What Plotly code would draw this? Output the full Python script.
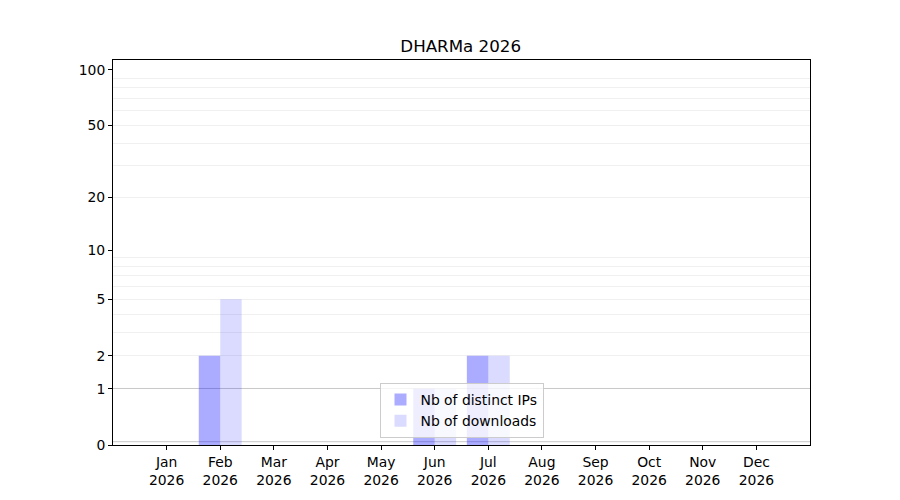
import numpy as np
import plotly.graph_objects as go

# monthly values
months = ["Jan", "Feb", "Mar", "Apr", "May", "Jun",
          "Jul", "Aug", "Sep", "Oct", "Nov", "Dec"]
year = "2026"
distinct_ips = [0, 2, 0, 0, 0, 1, 2, 0, 0, 0, 0, 0]
downloads = [0, 5, 0, 0, 0, 1, 2, 0, 0, 0, 0, 0]

tick_values = [0, 1, 2, 5, 10, 20, 50, 100]
major_grid = [1, 10, 100]
minor_grid = [2, 3, 4, 5, 6, 7, 8, 9, 20, 30, 40, 50, 60, 70, 80, 90]

x_labels = [f"{m}<br>{year}" for m in months]

# y axis is log(1 + n), so everything is shifted by one on a log axis
shift = lambda vals: [v + 1 for v in vals]
y_range = [0, np.log10(114)]

fig = go.Figure()
fig.add_trace(go.Bar(x=x_labels, y=shift(distinct_ips), name="Nb of distinct IPs",
                     marker=dict(color="rgba(0,0,255,0.33)", line=dict(width=0))))
fig.add_trace(go.Bar(x=x_labels, y=shift(downloads), name="Nb of downloads",
                     marker=dict(color="rgba(0,0,255,0.14)", line=dict(width=0))))

# darker grid lines at 1, 10, 100 (shapes on a log axis take log10 coords)
for v in shift(major_grid):
    fig.add_shape(type="line", xref="paper", x0=0, x1=1, yref="y",
                  y0=np.log10(v), y1=np.log10(v),
                  line=dict(color="#c8c8c8", width=1), layer="below")

# the page adds an 8px body margin, so margins are trimmed by that
fig.update_layout(
    width=900, height=500,
    margin=dict(l=105, r=98, t=52, b=63),
    paper_bgcolor="white", plot_bgcolor="white",
    font=dict(family="DejaVu Sans", size=13.9, color="black"),
    title=dict(text="DHARMa 2026", x=0.503, xanchor="center", y=0.924, yanchor="middle",
               font=dict(size=16.7)),
    barmode="group", bargap=0.2, bargroupgap=0,
    showlegend=True,
    legend=dict(x=0.5, xanchor="center", y=0.018, yanchor="bottom",
                bgcolor="rgba(255,255,255,0.8)", bordercolor="#cccccc", borderwidth=1,
                font=dict(size=13.9), tracegroupgap=0),
    xaxis=dict(
        type="category", range=[-1, 12],
        showgrid=False, zeroline=False,
        showline=True, linecolor="black", linewidth=1, mirror=True,
        ticks="outside", ticklen=4, tickcolor="black",
    ),
    yaxis=dict(
        type="log", range=y_range,
        tickvals=shift(tick_values), ticktext=[str(v) for v in tick_values],
        showgrid=False, zeroline=False,
        showline=True, linecolor="black", linewidth=1, mirror=True,
        ticks="outside", ticklen=4, tickcolor="black",
        minor=dict(tickmode="array", tickvals=shift(minor_grid), showgrid=True,
                   gridcolor="#f0f0f0", gridwidth=1, ticks=""),
    ),
)

fig.write_html("out.html")
